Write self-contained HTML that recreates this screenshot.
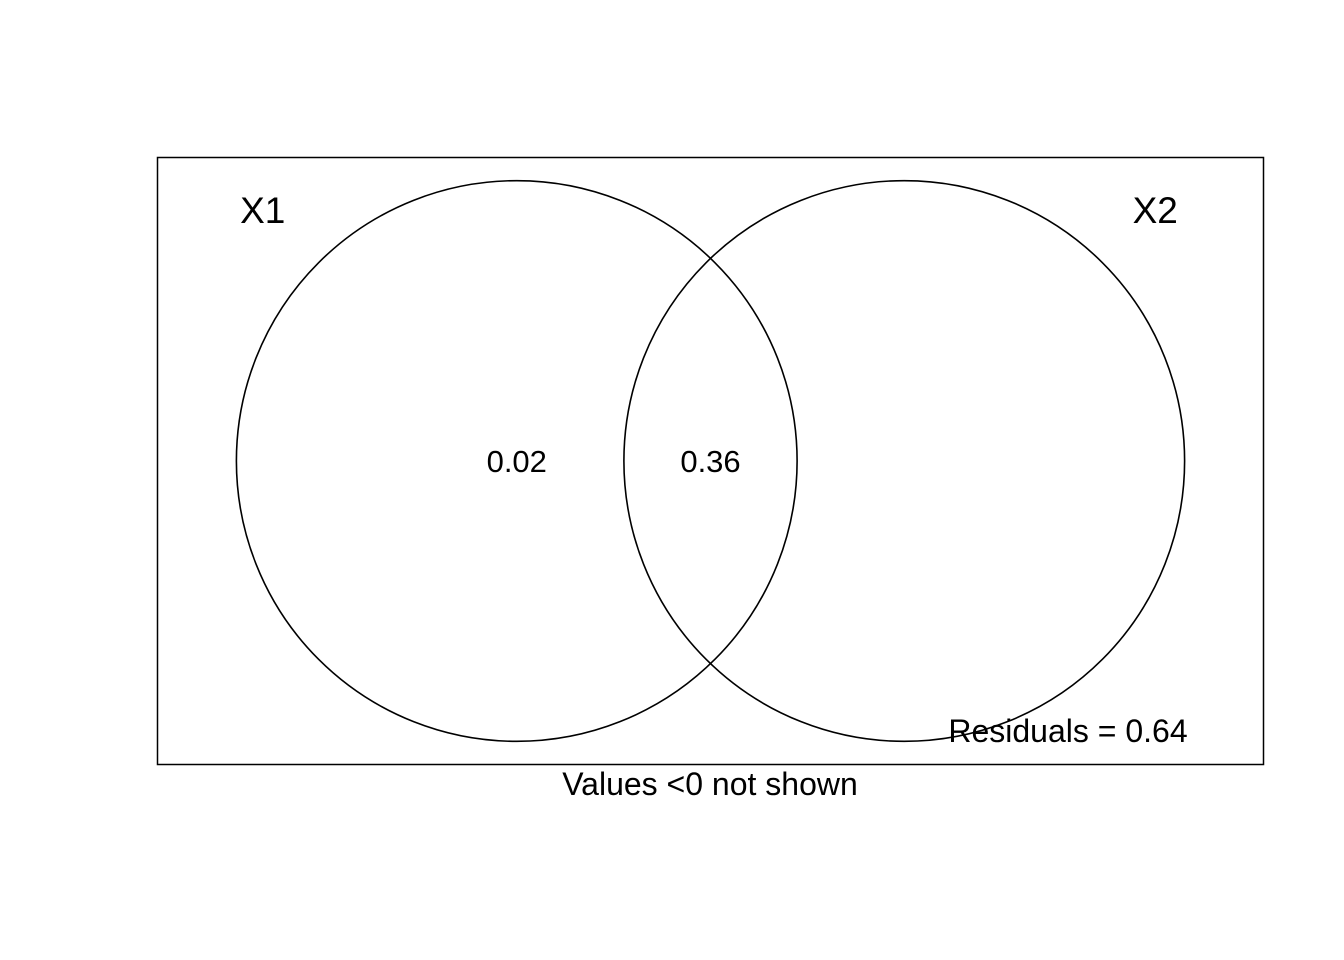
<!DOCTYPE html>
<html>
<head>
<meta charset="utf-8">
<style>
html,body{margin:0;padding:0;background:#fff;}
svg{display:block;}
text{font-family:"Liberation Sans",Arial,sans-serif;fill:#000;}
</style>
</head>
<body>
<svg id="chart" width="1344" height="960" viewBox="0 0 1344 960">
  <rect x="157.5" y="157.5" width="1106" height="607" fill="none" stroke="#000" stroke-width="1.5"/>
  <g id="marks"></g>
  <text x="1068" y="742" font-size="32" text-anchor="middle">Residuals = 0.64</text>
  <text x="710" y="795" font-size="32" text-anchor="middle">Values &lt;0 not shown</text>
</svg>
<script>
const setNames = ["X1", "X2"];
const setCentersX = [-0.5, 0.5];
const setRadius = [0.7235, 0.7235];
const regionLabels = ["0.02", "0.36"];
const regionX = [-0.5, 0.0];

// axis functions (data units -> pixels)
const cx0 = 710.5, cy0 = 461, unit = 387.5;
const sx = v => cx0 + v * unit;
const sr = v => v * unit;

const g = document.getElementById('marks');
const NS = 'http://www.w3.org/2000/svg';
setNames.forEach((n, i) => {
  const c = document.createElementNS(NS, 'circle');
  c.setAttribute('cx', sx(setCentersX[i]));
  c.setAttribute('cy', cy0);
  c.setAttribute('r', sr(setRadius[i]));
  c.setAttribute('fill', 'none');
  c.setAttribute('stroke', '#000');
  c.setAttribute('stroke-width', '1.6');
  
  
  g.appendChild(c);
  const t = document.createElementNS(NS, 'text');
  const lx = i === 0 ? sx(setCentersX[i]) - 254 : sx(setCentersX[i]) + 251;
  t.setAttribute('x', lx);
  t.setAttribute('y', 223);
  t.setAttribute('font-size', '37');
  t.setAttribute('text-anchor', 'middle');
  t.textContent = n;
  
  
  g.appendChild(t);
});
regionLabels.forEach((v, i) => {
  const t = document.createElementNS(NS, 'text');
  t.setAttribute('x', sx(regionX[i]));
  t.setAttribute('y', cy0 + 11);
  t.setAttribute('font-size', '31');
  t.setAttribute('text-anchor', 'middle');
  t.textContent = v;
  
  
  g.appendChild(t);
});
</script>
</body>
</html>
